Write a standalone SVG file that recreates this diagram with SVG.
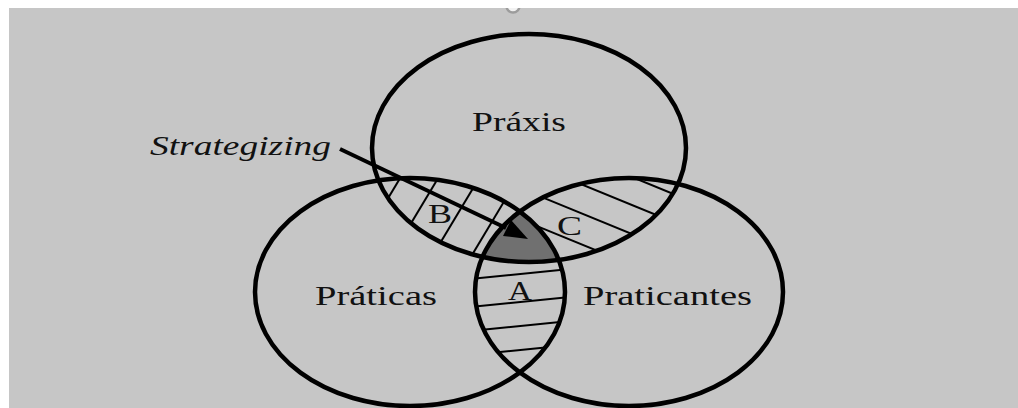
<svg xmlns="http://www.w3.org/2000/svg" width="1018" height="408" viewBox="0 0 1018 408">
<style>
.ring{fill:none;stroke:#000;stroke-width:4.5}
.hatch{stroke:#000;stroke-width:2;fill:none}
.lbl{font-family:"Liberation Serif","Times New Roman",serif;fill:#111;font-size:27px}
</style>
<defs>
<clipPath id="cP"><ellipse cx="529" cy="148" rx="157" ry="114"/></clipPath>
<clipPath id="cL"><ellipse cx="410" cy="292" rx="155" ry="114"/></clipPath>
<clipPath id="cR"><ellipse cx="629" cy="292" rx="154" ry="114"/></clipPath>
<clipPath id="band"><rect x="0" y="8" width="1018" height="20"/></clipPath>
<marker id="ah" viewBox="0 0 10 10" refX="9" refY="5" markerWidth="6" markerHeight="5" orient="auto" markerUnits="strokeWidth"><path d="M0,0 L10,5 L0,10 z" fill="#000"/></marker>
</defs>
<rect x="0" y="0" width="1018" height="408" fill="#fff"/>
<rect x="9" y="8" width="1009" height="400" fill="#c6c6c6"/>
<circle cx="513" cy="6" r="6.5" fill="#f2f2f2" stroke="#9c9c9c" stroke-width="2.5" clip-path="url(#band)"/>

<g id="hatch-B" clip-path="url(#cP)"><g clip-path="url(#cL)">
<line class="hatch" x1="417" y1="150" x2="339" y2="280"/>
<line class="hatch" x1="455" y1="150" x2="377" y2="280"/>
<line class="hatch" x1="496" y1="150" x2="418" y2="280"/>
<line class="hatch" x1="535" y1="150" x2="457" y2="280"/>
</g></g>
<g id="hatch-C" clip-path="url(#cP)"><g clip-path="url(#cR)">
<line class="hatch" x1="500" y1="123" x2="720" y2="213"/>
<line class="hatch" x1="500" y1="151" x2="720" y2="241"/>
<line class="hatch" x1="500" y1="180" x2="720" y2="270"/>
<line class="hatch" x1="500" y1="211" x2="720" y2="301"/>
</g></g>
<g id="hatch-A" clip-path="url(#cL)"><g clip-path="url(#cR)">
<line class="hatch" x1="440" y1="282" x2="600" y2="266"/>
<line class="hatch" x1="440" y1="310" x2="600" y2="294"/>
<line class="hatch" x1="440" y1="334" x2="600" y2="318"/>
<line class="hatch" x1="440" y1="358" x2="600" y2="342"/>
</g></g>
<g id="core" clip-path="url(#cP)"><g clip-path="url(#cL)">
<ellipse cx="629" cy="292" rx="154" ry="114" fill="#707070"/>
</g></g>

<g id="node-praxis"><ellipse class="ring" cx="529" cy="148" rx="157" ry="114"/>
<text class="lbl" x="472" y="131" textLength="94" lengthAdjust="spacingAndGlyphs">Práxis</text></g>
<g id="node-praticas"><ellipse class="ring" cx="410" cy="292" rx="155" ry="114"/>
<text class="lbl" x="315" y="305" textLength="122" lengthAdjust="spacingAndGlyphs">Práticas</text></g>
<g id="node-praticantes"><ellipse class="ring" cx="629" cy="292" rx="154" ry="114"/>
<text class="lbl" x="583" y="305" textLength="169" lengthAdjust="spacingAndGlyphs">Praticantes</text></g>

<g id="labels">
<text class="lbl" x="428" y="223" font-size="25" textLength="24" lengthAdjust="spacingAndGlyphs">B</text>
<text class="lbl" x="557" y="235" textLength="25" lengthAdjust="spacingAndGlyphs">C</text>
<text class="lbl" x="508" y="300" textLength="24" lengthAdjust="spacingAndGlyphs">A</text>
<text class="lbl" x="150" y="155" font-style="italic" textLength="181" lengthAdjust="spacingAndGlyphs">Strategizing</text>
</g>

<g id="connectors">
<line x1="340" y1="149" x2="506" y2="228" stroke="#000" stroke-width="4"/>
<polygon points="528,239 503,236 511,220" fill="#000"/>
</g>
</svg>
